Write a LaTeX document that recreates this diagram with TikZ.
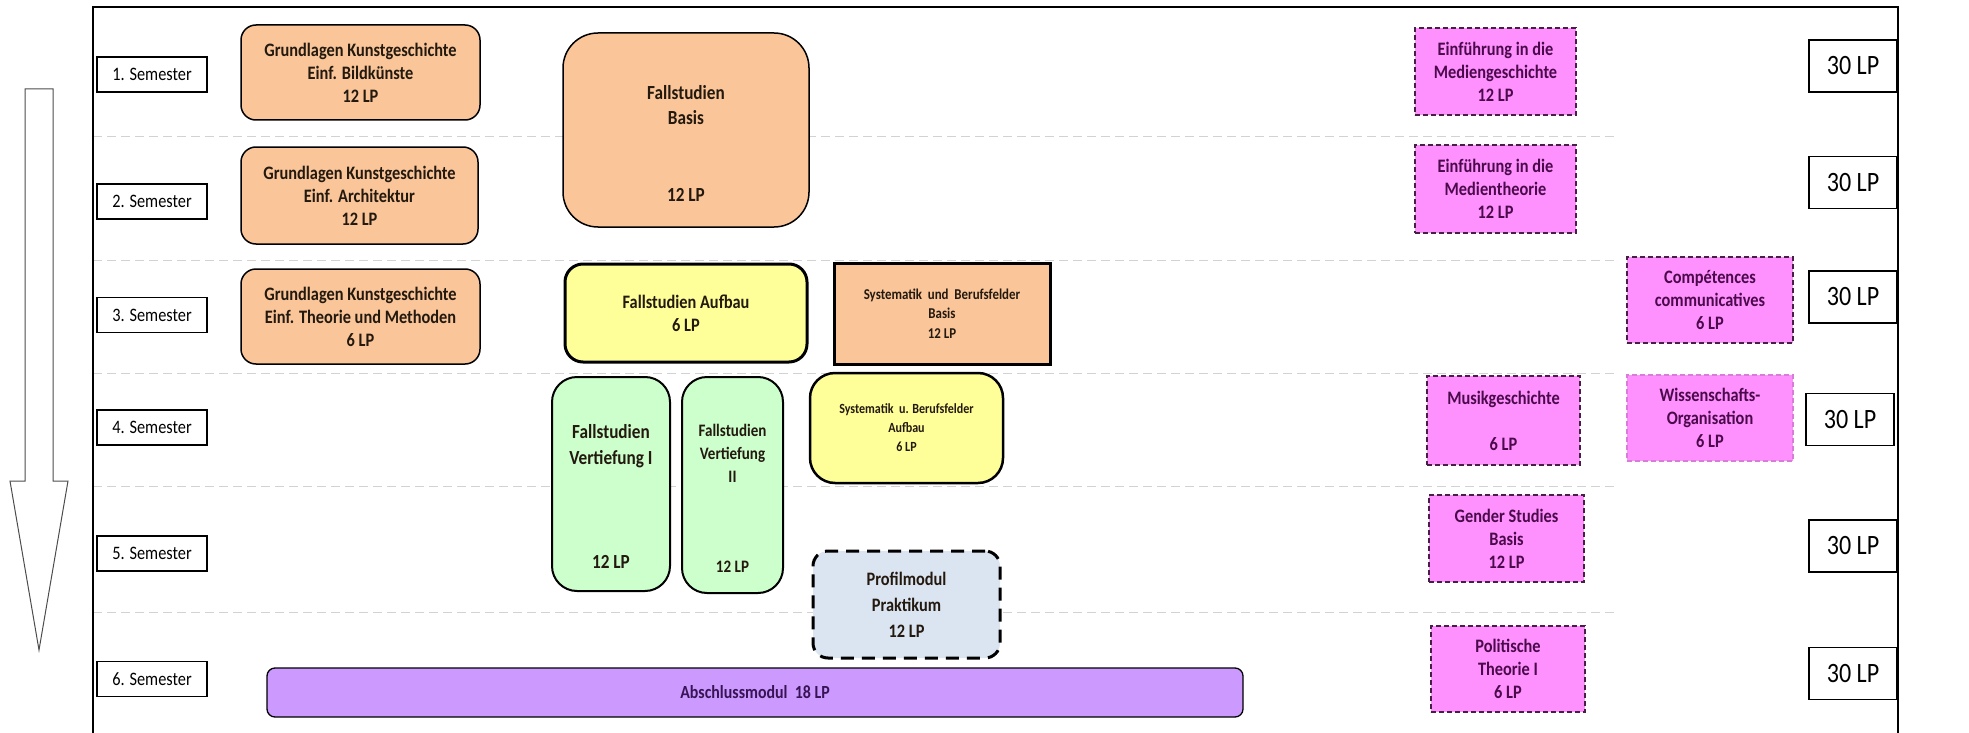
\documentclass[tikz,border=0pt]{standalone}
\usepackage{fontspec}
\setmainfont{Carlito}[FakeStretch=0.86]
\usepackage{tikz}
\usetikzlibrary{positioning, shapes}
\definecolor{pfirsich}{RGB}{249, 197, 153}
\definecolor{zitrone}{RGB}{255, 255, 153}
\definecolor{mint}{RGB}{204, 255, 204}
\definecolor{hellblau}{RGB}{219, 229, 241}
\definecolor{lila}{RGB}{204, 153, 255}
\definecolor{rosa}{RGB}{255, 145, 255}
\definecolor{rosarand}{RGB}{70, 30, 70}
\definecolor{rosatext}{RGB}{75, 10, 75}
\definecolor{lilatext}{RGB}{55, 20, 85}
\definecolor{trenn}{RGB}{210, 210, 210}
\definecolor{modtext}{RGB}{35, 25, 15}
\tikzset{
    sem/.style={draw, line width=1.2pt, minimum width=110pt, minimum height=35pt, inner sep=0pt, font=\fontsize{19}{22}\selectfont},
    lp/.style={draw, line width=1.2pt, minimum width=88pt, minimum height=52pt, inner sep=0pt, font=\fontsize{28}{32}\selectfont},
    modtxt/.style={align=center, inner sep=0pt, text=modtext, font=\fontsize{19}{23}\selectfont\bfseries},
    mod/.style={modtxt, draw, line width=1.5pt, rounded corners=15pt},
    kg/.style={mod, fill=pfirsich},
    fa/.style={mod, fill=zitrone, line width=3pt, rounded corners=18pt},
    fv/.style={mod, fill=mint, line width=2pt, rounded corners=25pt},
    wahl/.style={draw=rosarand, fill=rosa, line width=1.3pt, dash pattern=on 5pt off 3pt, align=center, inner sep=0pt, text=rosatext, font=\fontsize{19}{23}\selectfont\bfseries},
    trennlinie/.style={trenn, line width=1pt, dash pattern=on 9pt off 5pt},
}
\begin{document}
\begin{tikzpicture}[x=1pt, y=-1pt]
    \useasboundingbox (0,0) rectangle (1969,733);

    % Trennlinien zwischen den Semestern
    \foreach \y in {136, 260, 373, 486, 612}
        \draw[trennlinie] (93,\y) -- (1617,\y);

    \draw[line width=1.5pt] (93,740) -- (93,7) -- (1898,7) -- (1898,740);

    % Pfeil links
    \draw[line width=1pt, draw=black!70] (25,89) -- (53,89) -- (53,481) -- (68,481) -- (39,650) -- (10,481) -- (25,481) -- cycle;

    \foreach \n/\y in {1/74.5, 2/201.5, 3/315, 4/427.5, 5/553.5, 6/679}
        \node[sem] (sem\n) at (152,\y) {\n. Semester};

    \foreach \n/\x/\y in {1/1853/66, 2/1853/182.5, 3/1853/297, 4/1850/419.5, 5/1853/546, 6/1853/673.5}
        \node[lp] (lp\n) at (\x,\y) {30 LP};

    \node[kg, minimum width=239pt, minimum height=95pt] (kg1) at (360.5,72.5) {Grundlagen Kunstgeschichte\\Einf. Bildkünste\\12 LP};
    \node[kg, minimum width=237pt, minimum height=97pt] (kg2) at (359.5,195.5) {Grundlagen Kunstgeschichte\\Einf. Architektur\\12 LP};
    \node[kg, minimum width=239pt, minimum height=95pt] (kg3) at (360.5,316.5) {Grundlagen Kunstgeschichte\\Einf. Theorie und Methoden\\6 LP};

    \node[kg, rounded corners=35pt, minimum width=246pt, minimum height=194pt] (fb) at (686,130) {};
    \node[modtxt, font=\fontsize{20}{25}\selectfont\bfseries] (fbt) at (686,105.5) {Fallstudien\\Basis};
    \node[modtxt, font=\fontsize{20}{25}\selectfont\bfseries] (fblp) at (686,195) {12 LP};

    \node[fa, minimum width=242pt, minimum height=98pt] (fa) at (686,313) {Fallstudien Aufbau\\6 LP};
    \node[mod, sharp corners, fill=pfirsich, line width=3pt, minimum width=216pt, minimum height=101pt, font=\fontsize{15}{19.5}\selectfont\bfseries] (sbb) at (942,313.5) {Systematik\ \ und\ \ Berufsfelder\\Basis\\12 LP};

    \node[fv, minimum width=118pt, minimum height=214pt] (fv1) at (611,484) {};
    \node[modtxt, font=\fontsize{20}{26}\selectfont\bfseries] (fv1t) at (611,446) {Fallstudien\\Vertiefung I};
    \node[modtxt, font=\fontsize{20}{26}\selectfont\bfseries] (fv1lp) at (611,562) {12 LP};
    \node[fv, minimum width=101pt, minimum height=216pt] (fv2) at (732.5,485) {};
    \node[modtxt, font=\fontsize{17.5}{23}\selectfont\bfseries] (fv2t) at (732.5,453) {Fallstudien\\Vertiefung\\II};
    \node[modtxt, font=\fontsize{17.5}{23}\selectfont\bfseries] (fv2lp) at (732.5,567) {12 LP};

    \node[fa, rounded corners=25pt, line width=2.5pt, minimum width=193pt, minimum height=110pt, font=\fontsize{14}{19}\selectfont\bfseries] (sba) at (906.5,428) {Systematik\ \ u. Berufsfelder\\Aufbau\\6 LP};
    \node[mod, fill=hellblau, line width=3pt, dash pattern=on 13pt off 8pt, minimum width=187pt, minimum height=107pt, font=\fontsize{19}{26}\selectfont\bfseries] (prof) at (906.5,604.5) {Profilmodul\\Praktikum\\12 LP};
    \node[mod, fill=lila, rounded corners=8pt, line width=1.3pt, minimum width=976pt, minimum height=49pt, text=lilatext, font=\fontsize{18.5}{22}\selectfont\bfseries] (abs) at (755,692.5) {Abschlussmodul\ \ 18 LP};

    % Wahlpflicht
    \node[wahl, minimum width=161pt, minimum height=87pt] (mg) at (1495.5,71.5) {Einführung in die\\Mediengeschichte\\12 LP};
    \node[wahl, minimum width=161pt, minimum height=88pt] (mt) at (1495.5,189) {Einführung in die\\Medientheorie\\12 LP};
    \node[wahl, minimum width=166pt, minimum height=86pt] (cc) at (1710,300) {Compétences\\communicatives\\6 LP};
    \node[wahl, minimum width=153pt, minimum height=89pt] (mus) at (1503.5,420.5) {Musikgeschichte\\[23pt]6 LP};
    \node[wahl, draw=rosa!85!black, minimum width=166pt, minimum height=86pt] (wo) at (1710,418) {Wissenschafts-\\Organisation\\6 LP};
    \node[wahl, minimum width=155pt, minimum height=87pt] (gs) at (1506.5,538.5) {Gender Studies\\Basis\\12 LP};
    \node[wahl, minimum width=154pt, minimum height=86pt] (pt) at (1508,669) {Politische\\Theorie I\\6 LP};
\end{tikzpicture}
\end{document}
